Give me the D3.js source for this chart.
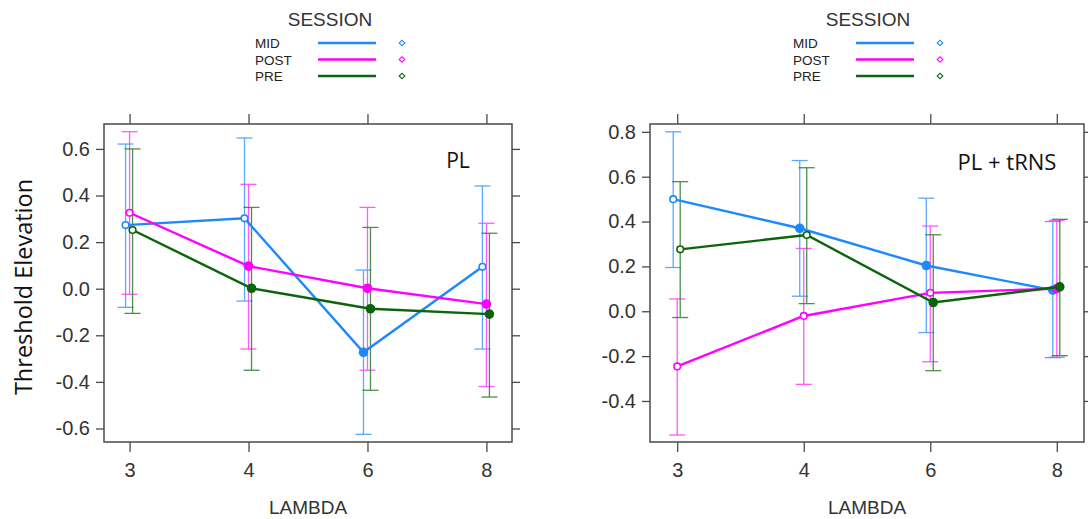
<!DOCTYPE html>
<html><head><meta charset="utf-8">
<script src="https://cdn.jsdelivr.net/npm/d3@7"></script>
<style>
html,body{margin:0;padding:0;background:#fff;}
svg{display:block;}
</style>
</head><body>
<svg id="chart" width="1088" height="519"></svg>
<script>
// ---------- data ----------
const categories = ["3", "4", "6", "8"];
const sessions = ["MID", "POST", "PRE"];
const panelTitles = ["PL", "PL + tRNS"];
const legendTitle = "SESSION";
const xLabel = "LAMBDA";
const yLabel = "Threshold Elevation";

const ticksPL = [-0.6, -0.4, -0.2, 0.0, 0.2, 0.4, 0.6];
const ticksTRNS = [-0.4, -0.2, 0.0, 0.2, 0.4, 0.6, 0.8];

// PL panel
const plMidMean = [0.273, 0.302, -0.273, 0.094];
const plMidLow  = [-0.080, -0.053, -0.625, -0.259];
const plMidHigh = [0.621, 0.647, 0.080, 0.441];
const plPostMean = [0.326, 0.097, 0.002, -0.066];
const plPostLow  = [-0.024, -0.259, -0.350, -0.420];
const plPostHigh = [0.674, 0.448, 0.349, 0.281];
const plPreMean = [0.252, 0.002, -0.086, -0.109];
const plPreLow  = [-0.106, -0.350, -0.436, -0.465];
const plPreHigh = [0.600, 0.349, 0.263, 0.238];
const plMidFilled  = [false, false, true, false];
const plPostFilled = [false, true, true, true];
const plPreFilled  = [false, true, true, true];

// PL + tRNS panel
const trMidMean = [0.500, 0.370, 0.204, 0.094];
const trMidLow  = [0.195, 0.067, -0.095, -0.207];
const trMidHigh = [0.800, 0.672, 0.504, 0.400];
const trPostMean = [-0.246, -0.021, 0.082, 0.101];
const trPostLow  = [-0.552, -0.326, -0.225, -0.205];
const trPostHigh = [0.055, 0.280, 0.380, 0.405];
const trPreMean = [0.276, 0.340, 0.039, 0.109];
const trPreLow  = [-0.028, 0.034, -0.265, -0.198];
const trPreHigh = [0.578, 0.640, 0.341, 0.410];
const trMidFilled  = [false, true, true, true];
const trPostFilled = [false, false, false, true];
const trPreFilled  = [false, false, true, true];

// ---------- styles ----------
const colors = {MID: "#1e88ff", POST: "#ff00ff", PRE: "#0a640a"};
const barColors = {MID: "#3d9bff", POST: "#ff3dff", PRE: "#2e7d2e"};
const dodge = {MID: -4, POST: 0, PRE: 3};
const axisColor = "#4a4a4a";
const textColor = "#333";

const panels = [
  {title: panelTitles[0], box: {x0: 104, x1: 512, y0: 124, y1: 442}, domain: [-0.658, 0.707], ticks: ticksPL,
   series: {
     MID: {mean: plMidMean, lo: plMidLow, hi: plMidHigh, filled: plMidFilled},
     POST: {mean: plPostMean, lo: plPostLow, hi: plPostHigh, filled: plPostFilled},
     PRE: {mean: plPreMean, lo: plPreLow, hi: plPreHigh, filled: plPreFilled}},
   titlePos: [458, 168], titleSize: 21, legendCx: 330},
  {title: panelTitles[1], box: {x0: 650, x1: 1084, y0: 124, y1: 442}, domain: [-0.583, 0.835], ticks: ticksTRNS,
   series: {
     MID: {mean: trMidMean, lo: trMidLow, hi: trMidHigh, filled: trMidFilled},
     POST: {mean: trPostMean, lo: trPostLow, hi: trPostHigh, filled: trPostFilled},
     PRE: {mean: trPreMean, lo: trPreLow, hi: trPreHigh, filled: trPreFilled}},
   titlePos: [1007, 170], titleSize: 22, legendCx: 868}
];

const svg = d3.select("#chart");
const font = "'Liberation Sans', Arial, sans-serif";
const fmt = v => d3.format(".1f")(v).replace("−", "-");

panels.forEach(p => {
  const b = p.box;
  const g = svg.append("g");
  const x = d3.scalePoint().domain(categories).range([b.x0, b.x1]).padding(0.215);
  const y = d3.scaleLinear().domain(p.domain).range([b.y1, b.y0]);

  // axes
  const styleAxis = sel => {
    sel.select(".domain").remove();
    sel.selectAll(".tick line").attr("stroke", axisColor).attr("stroke-width", 1.3);
    sel.selectAll(".tick text").attr("fill", textColor).attr("font-family", font).attr("font-size", 20);
  };
  g.append("g").attr("transform", `translate(0,${b.y1})`)
    .call(d3.axisBottom(x).tickSize(10).tickPadding(11)).call(styleAxis);
  g.append("g").attr("transform", `translate(0,${b.y0})`)
    .call(d3.axisTop(x).tickSize(10).tickFormat("")).call(styleAxis);
  g.append("g").attr("transform", `translate(${b.x0},0)`)
    .call(d3.axisLeft(y).tickValues(p.ticks).tickFormat(fmt).tickSize(8).tickPadding(6)).call(styleAxis);
  g.append("g").attr("transform", `translate(${b.x1},0)`)
    .call(d3.axisRight(y).tickValues(p.ticks).tickSize(8).tickFormat("")).call(styleAxis);

  g.append("rect").attr("x", b.x0).attr("y", b.y0).attr("width", b.x1 - b.x0).attr("height", b.y1 - b.y0)
    .attr("fill", "none").attr("stroke", axisColor).attr("stroke-width", 1.5);

  // error bars
  sessions.forEach(s => {
    const d = p.series[s];
    const eg = g.append("g").attr("stroke", barColors[s]).attr("stroke-width", 1.3).attr("opacity", 0.85);
    categories.forEach((c, i) => {
      const cx = x(c) + dodge[s];
      eg.append("line").attr("x1", cx).attr("x2", cx).attr("y1", y(d.lo[i])).attr("y2", y(d.hi[i]));
      eg.append("line").attr("x1", cx - 8).attr("x2", cx + 8).attr("y1", y(d.lo[i])).attr("y2", y(d.lo[i]));
      eg.append("line").attr("x1", cx - 8).attr("x2", cx + 8).attr("y1", y(d.hi[i])).attr("y2", y(d.hi[i]));
    });
  });
  // lines & points
  sessions.forEach(s => {
    const d = p.series[s];
    const line = d3.line().x((v, i) => x(categories[i]) + dodge[s]).y(v => y(v));
    g.append("path").attr("d", line(d.mean)).attr("fill", "none").attr("stroke", colors[s]).attr("stroke-width", 2.4);
    g.selectAll(null).data(d.mean).join("circle")
      .attr("cx", (v, i) => x(categories[i]) + dodge[s]).attr("cy", v => y(v))
      .attr("r", (v, i) => d.filled[i] ? 4 : 3.3)
      .attr("fill", (v, i) => d.filled[i] ? colors[s] : "#fff")
      .attr("stroke", colors[s]).attr("stroke-width", 1.6);
  });

  // panel title
  g.append("text").attr("x", p.titlePos[0]).attr("y", p.titlePos[1]).attr("text-anchor", "middle")
    .style("font-family", "'Open Sans', sans-serif").style("font-size", p.titleSize + "px").attr("fill", "#111").text(p.title);

  // x label
  g.append("text").attr("x", (b.x0 + b.x1) / 2).attr("y", 514).attr("text-anchor", "middle")
    .style("font-family", font).style("font-size", "19px").attr("fill", textColor).text(xLabel);

  // legend
  const lg = svg.append("g").attr("transform", `translate(${p.legendCx},0)`);
  lg.append("text").attr("x", 0).attr("y", 26).attr("text-anchor", "middle")
    .style("font-family", font).style("font-size", "19px").attr("fill", textColor).text(legendTitle);
  sessions.forEach((s, i) => {
    const yy = 43 + i * 16.5;
    lg.append("text").attr("x", -75).attr("y", yy + 5).style("font-family", font).style("font-size", "13.5px")
      .attr("fill", "#222").text(s);
    lg.append("line").attr("x1", -12).attr("x2", 46).attr("y1", yy).attr("y2", yy)
      .attr("stroke", colors[s]).attr("stroke-width", 2.3);
    lg.append("path").attr("d", d3.symbol(d3.symbolSquare, 16)())
      .attr("transform", `translate(72,${yy}) rotate(45)`).attr("fill", "none").attr("stroke", colors[s]).attr("stroke-width", 1.1);
  });
});

// y axis title
svg.append("text").attr("transform", "translate(32,287) rotate(-90)").attr("text-anchor", "middle")
  .style("font-family", "'Open Sans', sans-serif").style("font-size", "23.5px").attr("fill", "#111").text(yLabel);
</script>
</body></html>
